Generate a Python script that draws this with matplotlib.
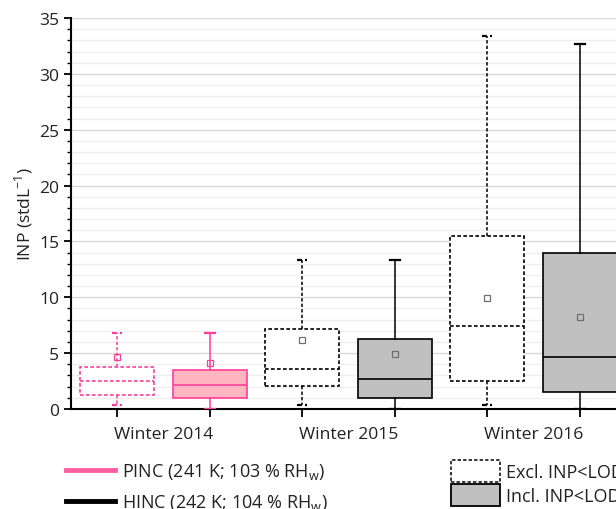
import matplotlib
matplotlib.use("Agg")
import matplotlib.pyplot as plt
from matplotlib.lines import Line2D
from matplotlib.patches import Patch
from matplotlib.ticker import MultipleLocator

plt.rcParams['font.family'] = ['Open Sans', 'DejaVu Sans']
plt.rcParams['mathtext.fontset'] = 'custom'
plt.rcParams['mathtext.rm'] = 'Open Sans'

# ---- data ----
groups = ["Winter 2014", "Winter 2015", "Winter 2016"]
box_kind = ["excl", "incl", "excl", "incl", "excl", "incl"]
instrument = ["PINC", "PINC", "HINC", "HINC", "HINC", "HINC"]
whislo = [0.35, 0.0, 0.4, 0.0, 0.4, 0.0]
q1 = [1.28, 1.02, 2.1, 0.99, 2.54, 1.53]
med = [2.49, 2.13, 3.6, 2.7, 7.4, 4.67]
q3 = [3.75, 3.5, 7.13, 6.26, 15.47, 13.98]
whishi = [6.77, 6.77, 13.36, 13.36, 33.4, 32.7]
means = [4.64, 4.16, 6.2, 4.94, 9.93, 8.22]
legend_lines = ["PINC (241 K; 103 % RH$_\\mathregular{w}$)", "HINC (242 K; 104 % RH$_\\mathregular{w}$)"]
legend_boxes = ["Excl. INP<LOD", "Incl. INP<LOD"]

pink_edge = "#ff3f9a"
pink_fill = "#ffb6c1"
pink_line = "#ff5fa0"
gray_fill = "#c0c0c0"
dash = (0, (2.2, 1.4))

W, H = 616, 510
fig = plt.figure(figsize=(W / 100, H / 100), dpi=100)
ax = fig.add_axes([71 / W, 1 - 410 / H, (626 - 71) / W, (410 - 19) / H])

positions = list(range(1, len(med) + 1))
for i, p in enumerate(positions):
    stats = [dict(whislo=whislo[i], q1=q1[i], med=med[i], q3=q3[i], whishi=whishi[i],
                  mean=means[i], fliers=[])]
    ec = pink_edge if instrument[i] == "PINC" else "black"
    if box_kind[i] == "excl":
        fc = "white"
        ls = dash
    else:
        fc = pink_fill if instrument[i] == "PINC" else gray_fill
        ls = "-"
    mcol = pink_edge if instrument[i] == "PINC" else "#707070"
    ax.bxp(stats, positions=[p], widths=0.8, patch_artist=True, showmeans=True,
           showfliers=False,
           boxprops=dict(facecolor=fc, edgecolor=ec, linewidth=1.2, linestyle=ls),
           whiskerprops=dict(color=ec, linewidth=1.1, linestyle=ls),
           capprops=dict(color=ec, linewidth=1.6, linestyle=ls),
           medianprops=dict(color=ec, linewidth=1.2, linestyle=ls),
           meanprops=dict(marker="s", markersize=4.5, markerfacecolor="none",
                          markeredgecolor=mcol, markeredgewidth=0.9),
           capwidths=0.11, zorder=3)

ax.set_xlim(0.5, 6.5)
ax.set_ylim(0, 35)
ax.set_xticks(positions)
ax.set_xticklabels([])
for gi, g in enumerate(groups):
    ax.text(positions[2 * gi] + 0.5, -1.5, g, ha="center", va="top", fontsize=12.6,
            color="#222222")

ax.yaxis.set_major_locator(MultipleLocator(5))
ax.yaxis.set_minor_locator(MultipleLocator(1))
ax.grid(True, which="major", axis="y", color="#d8d8d8", linewidth=1.0, zorder=0)
ax.grid(True, which="minor", axis="y", color="#efefef", linewidth=0.9, zorder=0)
ax.set_axisbelow(True)
ax.tick_params(axis="y", which="major", direction="out", length=5, width=1.3,
               labelsize=12.6, colors="black", labelcolor="#222222")
ax.tick_params(axis="y", which="minor", direction="out", length=3, width=1.0)
ax.tick_params(axis="x", which="major", direction="out", length=6, width=1.3)
for s in ["top", "right"]:
    ax.spines[s].set_visible(False)
for s in ["left", "bottom"]:
    ax.spines[s].set_linewidth(1.5)
ax.set_ylabel("INP (stdL$^{-1}$)", fontsize=12.6, color="#222222", labelpad=3)

h1 = [Line2D([], [], color=pink_line, linewidth=3.5),
      Line2D([], [], color="black", linewidth=3.5)]
fig.legend(h1, legend_lines, loc="upper left", bbox_to_anchor=(50 / W, 1 - 446 / H),
           frameon=False, fontsize=13, handlelength=2.7, handletextpad=0.4,
           labelspacing=0.6, labelcolor="#222222")
h2 = [Patch(facecolor="white", edgecolor="black", linestyle=dash, linewidth=1.1),
      Patch(facecolor=gray_fill, edgecolor="black", linewidth=1.3)]
fig.legend(h2, legend_boxes, loc="upper left", bbox_to_anchor=(435 / W, 1 - 445 / H),
           frameon=False, fontsize=13, handlelength=2.7, handleheight=1.5,
           handletextpad=0.35, labelspacing=0.1, labelcolor="#222222")

fig.savefig("out.png", dpi=100)
